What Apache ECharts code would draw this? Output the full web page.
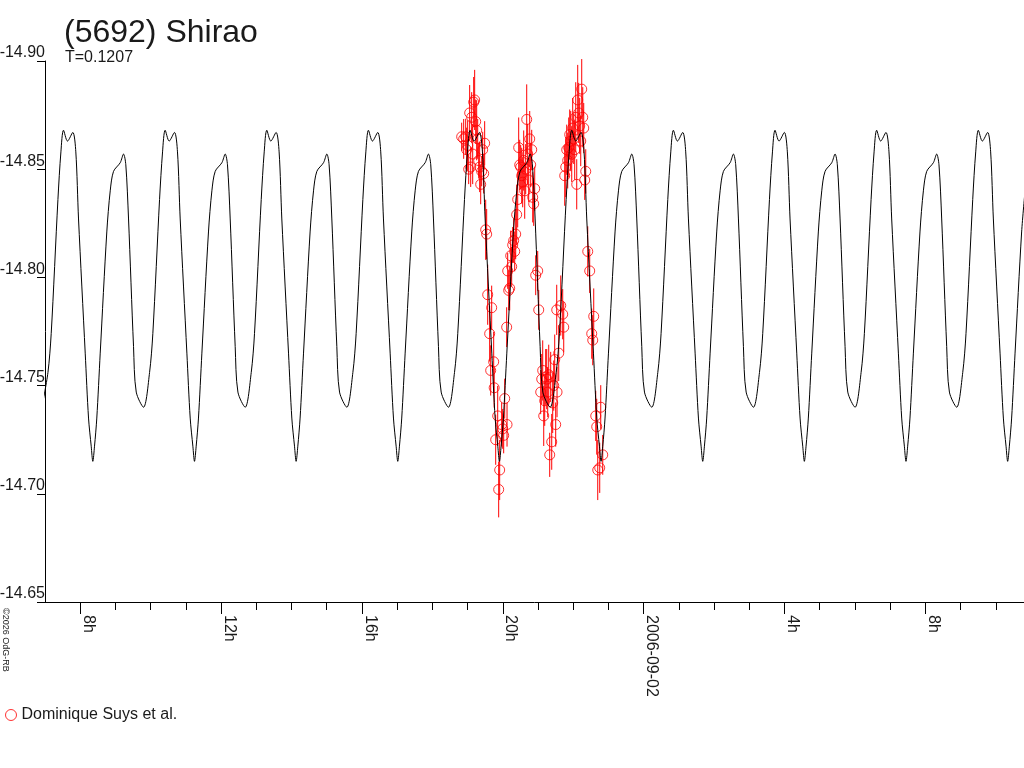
<!DOCTYPE html>
<html>
<head>
<meta charset="utf-8">
<title>(5692) Shirao</title>
<script src="https://cdn.jsdelivr.net/npm/echarts@6/dist/echarts.min.js"></script>
<style>
html, body { margin: 0; padding: 0; background: #fff; }
#chart { width: 1024px; height: 768px; }
</style>
</head>
<body>
<div id="chart"></div>
<script>
// model lightcurve, hours counted from 2006-09-01 0h
const curveHours = [
  6.912, 7.083, 7.176, 7.367, 7.452,
  7.525, 7.639, 7.790, 7.875, 7.952, 8.142, 8.236, 8.312, 8.358, 8.406, 8.471, 8.568, 8.755, 8.852, 8.946, 9.136, 9.230, 9.295, 9.372, 9.514, 9.591, 9.798, 9.969, 10.062, 10.253, 10.338,
  10.412, 10.526, 10.677, 10.762, 10.839, 11.029, 11.123, 11.199, 11.245, 11.293, 11.358, 11.455, 11.642, 11.739, 11.833, 12.023, 12.117, 12.182, 12.259, 12.401, 12.478, 12.685, 12.856, 12.949, 13.140, 13.225,
  13.298, 13.412, 13.563, 13.648, 13.725, 13.915, 14.009, 14.085, 14.131, 14.179, 14.244, 14.341, 14.528, 14.625, 14.719, 14.909, 15.003, 15.068, 15.145, 15.287, 15.364, 15.571, 15.742, 15.835, 16.026, 16.111,
  16.184, 16.298, 16.449, 16.534, 16.611, 16.801, 16.895, 16.971, 17.017, 17.065, 17.130, 17.227, 17.414, 17.511, 17.605, 17.795, 17.889, 17.954, 18.031, 18.173, 18.250, 18.457, 18.628, 18.721, 18.912, 18.997,
  19.071, 19.185, 19.336, 19.421, 19.498, 19.688, 19.782, 19.858, 19.904, 19.952, 20.017, 20.114, 20.301, 20.398, 20.492, 20.682, 20.776, 20.841, 20.918, 21.060, 21.137, 21.344, 21.515, 21.608, 21.799, 21.884,
  21.957, 22.071, 22.222, 22.307, 22.384, 22.574, 22.668, 22.744, 22.790, 22.838, 22.903, 23.000, 23.187, 23.284, 23.378, 23.568, 23.662, 23.727, 23.804, 23.946, 24.023, 24.230, 24.401, 24.494, 24.685, 24.770,
  24.844, 24.958, 25.109, 25.194, 25.271, 25.461, 25.555, 25.631, 25.677, 25.725, 25.790, 25.887, 26.074, 26.171, 26.265, 26.455, 26.549, 26.614, 26.691, 26.833, 26.910, 27.117, 27.288, 27.381, 27.572, 27.657,
  27.730, 27.844, 27.995, 28.080, 28.157, 28.347, 28.441, 28.517, 28.563, 28.611, 28.676, 28.773, 28.960, 29.057, 29.151, 29.341, 29.435, 29.500, 29.577, 29.719, 29.796, 30.003, 30.174, 30.267, 30.458, 30.543,
  30.616, 30.730, 30.881, 30.966, 31.043, 31.233, 31.327, 31.403, 31.449, 31.497, 31.562, 31.659, 31.846, 31.943, 32.037, 32.227, 32.321, 32.386, 32.463, 32.605, 32.682, 32.889, 33.060, 33.153, 33.344, 33.429,
  33.503, 33.617, 33.768, 33.853, 33.930, 34.120, 34.214, 34.290, 34.336, 34.384, 34.449, 34.546, 34.733, 34.830
]
const curveMags = [
  -14.740, -14.756, -14.774, -14.836, -14.858,
  -14.868, -14.863, -14.867, -14.858, -14.827, -14.765, -14.735, -14.722, -14.715, -14.722, -14.735, -14.765, -14.821, -14.840, -14.849, -14.853, -14.857, -14.852, -14.827, -14.768, -14.747, -14.740, -14.756, -14.774, -14.836, -14.858,
  -14.868, -14.863, -14.867, -14.858, -14.827, -14.765, -14.735, -14.722, -14.715, -14.722, -14.735, -14.765, -14.821, -14.840, -14.849, -14.853, -14.857, -14.852, -14.827, -14.768, -14.747, -14.740, -14.756, -14.774, -14.836, -14.858,
  -14.868, -14.863, -14.867, -14.858, -14.827, -14.765, -14.735, -14.722, -14.715, -14.722, -14.735, -14.765, -14.821, -14.840, -14.849, -14.853, -14.857, -14.852, -14.827, -14.768, -14.747, -14.740, -14.756, -14.774, -14.836, -14.858,
  -14.868, -14.863, -14.867, -14.858, -14.827, -14.765, -14.735, -14.722, -14.715, -14.722, -14.735, -14.765, -14.821, -14.840, -14.849, -14.853, -14.857, -14.852, -14.827, -14.768, -14.747, -14.740, -14.756, -14.774, -14.836, -14.858,
  -14.868, -14.863, -14.867, -14.858, -14.827, -14.765, -14.735, -14.722, -14.715, -14.722, -14.735, -14.765, -14.821, -14.840, -14.849, -14.853, -14.857, -14.852, -14.827, -14.768, -14.747, -14.740, -14.756, -14.774, -14.836, -14.858,
  -14.868, -14.863, -14.867, -14.858, -14.827, -14.765, -14.735, -14.722, -14.715, -14.722, -14.735, -14.765, -14.821, -14.840, -14.849, -14.853, -14.857, -14.852, -14.827, -14.768, -14.747, -14.740, -14.756, -14.774, -14.836, -14.858,
  -14.868, -14.863, -14.867, -14.858, -14.827, -14.765, -14.735, -14.722, -14.715, -14.722, -14.735, -14.765, -14.821, -14.840, -14.849, -14.853, -14.857, -14.852, -14.827, -14.768, -14.747, -14.740, -14.756, -14.774, -14.836, -14.858,
  -14.868, -14.863, -14.867, -14.858, -14.827, -14.765, -14.735, -14.722, -14.715, -14.722, -14.735, -14.765, -14.821, -14.840, -14.849, -14.853, -14.857, -14.852, -14.827, -14.768, -14.747, -14.740, -14.756, -14.774, -14.836, -14.858,
  -14.868, -14.863, -14.867, -14.858, -14.827, -14.765, -14.735, -14.722, -14.715, -14.722, -14.735, -14.765, -14.821, -14.840, -14.849, -14.853, -14.857, -14.852, -14.827, -14.768, -14.747, -14.740, -14.756, -14.774, -14.836, -14.858,
  -14.868, -14.863, -14.867, -14.858, -14.827, -14.765, -14.735, -14.722, -14.715, -14.722, -14.735, -14.765, -14.821, -14.840
]

// observations (Dominique Suys et al.)
const obsHours = [
  18.832, 18.889, 18.946, 18.974, 19.002, 19.031, 19.059, 19.088, 19.116, 19.145,
  19.173, 19.201, 19.230, 19.258, 19.287, 19.315, 19.343, 19.372, 19.400, 19.429,
  19.457, 19.485, 19.514, 19.542, 19.571, 19.627, 19.656, 19.684, 19.741, 19.755,
  19.798, 19.855, 19.883, 19.911, 19.968, 19.997, 20.025, 20.054, 20.110, 20.120,
  20.139, 20.167, 20.196, 20.224, 20.252, 20.281, 20.309, 20.338, 20.366, 20.394,
  20.423, 20.451, 20.480, 20.508, 20.537, 20.565, 20.593, 20.622, 20.650, 20.679,
  20.707, 20.735, 20.764, 20.792, 20.821, 20.849, 20.877, 20.906, 20.934, 20.991,
  21.020, 21.076, 21.105, 21.133, 21.162, 21.190, 21.218, 21.247, 21.275, 21.304,
  21.332, 21.360, 21.389, 21.417, 21.446, 21.474, 21.502, 21.531, 21.540, 21.588,
  21.645, 21.701, 21.730, 21.758, 21.787, 21.815, 21.843, 21.872, 21.900, 21.929,
  21.957, 21.985, 22.014, 22.042, 22.071, 22.099, 22.127, 22.156, 22.184, 22.213,
  22.241, 22.270, 22.298, 22.326, 22.355, 22.412, 22.468, 22.525, 22.554, 22.582,
  22.639, 22.667, 22.696, 22.752, 22.781, 22.838
]
const obsMags = [
  -14.865, -14.864, -14.865, -14.859, -14.861, -14.850, -14.876, -14.851, -14.874, -14.857,
  -14.881, -14.882, -14.872, -14.868, -14.864, -14.854, -14.851, -14.843, -14.849, -14.859,
  -14.848, -14.862, -14.822, -14.820, -14.792, -14.774, -14.757, -14.786, -14.761, -14.749,
  -14.725, -14.736, -14.702, -14.711, -14.732, -14.730, -14.727, -14.744, -14.777, -14.732,
  -14.803, -14.794, -14.795, -14.810, -14.805, -14.815, -14.817, -14.812, -14.820, -14.829,
  -14.836, -14.860, -14.852, -14.851, -14.847, -14.844, -14.854, -14.840, -14.850, -14.873,
  -14.857, -14.845, -14.864, -14.852, -14.859, -14.837, -14.834, -14.841, -14.801, -14.803,
  -14.785, -14.747, -14.753, -14.757, -14.736, -14.743, -14.754, -14.753, -14.747, -14.755,
  -14.718, -14.754, -14.724, -14.742, -14.750, -14.762, -14.732, -14.785, -14.747, -14.765,
  -14.787, -14.783, -14.777, -14.847, -14.851, -14.859, -14.854, -14.860, -14.866, -14.863,
  -14.857, -14.869, -14.864, -14.859, -14.874, -14.843, -14.882, -14.876, -14.870, -14.863,
  -14.887, -14.874, -14.869, -14.845, -14.849, -14.812, -14.803, -14.774, -14.771, -14.782,
  -14.736, -14.731, -14.711, -14.712, -14.740, -14.718
]
const obsErrs = [
  0.0065, 0.0092, 0.0083, 0.0102, 0.0116, 0.0069, 0.0129, 0.0092, 0.0116, 0.0139,
  0.0116, 0.0139, 0.0102, 0.0139, 0.0092, 0.0083, 0.0116, 0.0092, 0.0069, 0.0083,
  0.0092, 0.0102, 0.0139, 0.0116, 0.0139, 0.0129, 0.0116, 0.0102, 0.0139, 0.0092,
  0.0116, 0.0139, 0.0129, 0.0139, 0.0102, 0.0092, 0.0083, 0.0092, 0.0092, 0.0102,
  0.0083, 0.0092, 0.0102, 0.0116, 0.0092, 0.0083, 0.0102, 0.0092, 0.0116, 0.0139,
  0.0129, 0.0139, 0.0116, 0.0102, 0.0129, 0.0116, 0.0139, 0.0129, 0.0116, 0.0162,
  0.0139, 0.0102, 0.0129, 0.0102, 0.0092, 0.0116, 0.0102, 0.0102, 0.0092, 0.0092,
  0.0092, 0.0102, 0.0116, 0.0139, 0.0139, 0.0116, 0.0129, 0.0139, 0.0116, 0.0139,
  0.0102, 0.0116, 0.0129, 0.0139, 0.0116, 0.0116, 0.0102, 0.0116, 0.0116, 0.0129,
  0.0139, 0.0116, 0.0116, 0.0139, 0.0139, 0.0116, 0.0129, 0.0139, 0.0116, 0.0139,
  0.0129, 0.0139, 0.0116, 0.0139, 0.0162, 0.0116, 0.0162, 0.0139, 0.0129, 0.0116,
  0.0139, 0.0139, 0.0116, 0.0092, 0.0102, 0.0116, 0.0102, 0.0116, 0.0116, 0.0129,
  0.0116, 0.0129, 0.0139, 0.0116, 0.0102, 0.0092
]

// axis ticks
const majorHours = [8, 12, 16, 20, 24, 28, 32]
const hourLabels = ['8h', '12h', '16h', '20h', '2006-09-02', '4h', '8h']
const minorHours = [8, 9, 10, 11, 12, 13, 14, 15, 16, 17, 18, 19, 20, 21, 22, 23, 24, 25, 26, 27, 28, 29, 30, 31, 32, 33, 34]

const FONT = "'Liberation Sans', Arial, sans-serif"
const RED = '#ff0000'
const TEXT = '#1a1a1a'

let curveData = new Array
for (let i = 0; i < curveHours.length; i++) {
    curveData.push([curveHours[i], curveMags[i]])
}
let obsData = new Array
for (let i = 0; i < obsHours.length; i++) {
    obsData.push([obsHours[i], obsMags[i], obsErrs[i]])
}

const xMin = 7
const xMax = 34.8

let option = {
    backgroundColor: '#fff',
    animation: false,
    textStyle: { fontFamily: FONT },
    grid: { left: 45, top: 61, width: 979, height: 541, containLabel: false, outerBoundsMode: 'none' },
    graphic: [
        { type: 'text', x: 64, y: 33, style: { text: '(5692) Shirao', font: '32px ' + FONT, fill: TEXT, verticalAlign: 'middle' } },
        { type: 'text', x: 65, y: 58, style: { text: 'T=0.1207', font: '16px ' + FONT, fill: TEXT, verticalAlign: 'middle' } },
        { type: 'text', x: 5, y: 608, rotation: -Math.PI / 2, style: { text: '©2026 OdG-RB', font: '9px ' + FONT, fill: TEXT, align: 'left', verticalAlign: 'middle' } }
    ],
    legend: {
        left: 0,
        top: 702,
        itemWidth: 11,
        itemHeight: 11,
        itemGap: 10,
        textStyle: { fontSize: 16, color: TEXT, fontFamily: FONT },
        data: [{
            name: 'Dominique Suys et al.',
            icon: 'circle',
            itemStyle: { color: 'transparent', borderColor: RED, borderWidth: 1 }
        }]
    },
    xAxis: [
        {
            type: 'value',
            min: xMin,
            max: xMax,
            position: 'bottom',
            axisLine: { show: true, lineStyle: { color: '#000', width: 1 } },
            axisTick: { show: true, length: 12, customValues: majorHours, lineStyle: { color: '#000' } },
            axisLabel: {
                show: true,
                customValues: majorHours,
                rotate: -90,
                margin: 13,
                verticalAlign: 'bottom',
                fontSize: 16,
                color: TEXT,
                fontFamily: FONT,
                formatter: function (v) {
                    const idx = majorHours.indexOf(Math.round(v))
                    return idx >= 0 ? hourLabels[idx] : ''
                }
            },
            splitLine: { show: false }
        },
        {
            type: 'value',
            min: xMin,
            max: xMax,
            position: 'bottom',
            axisLine: { show: false },
            axisTick: { show: true, length: 8, customValues: minorHours, lineStyle: { color: '#000' } },
            axisLabel: { show: false },
            splitLine: { show: false }
        }
    ],
    yAxis: {
        type: 'value',
        inverse: true,
        min: -14.90,
        max: -14.65,
        interval: 0.05,
        axisLine: { show: true, lineStyle: { color: '#000', width: 1 } },
        axisTick: { show: true, length: 8, lineStyle: { color: '#000' } },
        axisLabel: {
            margin: 0,
            verticalAlign: 'bottom',
            fontSize: 16,
            color: TEXT,
            fontFamily: FONT,
            formatter: function (v) { return v.toFixed(2) }
        },
        splitLine: { show: false }
    },
    series: [
        {
            name: 'errors',
            type: 'custom',
            xAxisIndex: 0,
            yAxisIndex: 0,
            z: 1,
            encode: { x: 0, y: 1 },
            renderItem: function (params, api) {
                const h = api.value(0)
                const m = api.value(1)
                const e = api.value(2)
                const p1 = api.coord([h, m - e])
                const p2 = api.coord([h, m + e])
                return {
                    type: 'line',
                    shape: { x1: p1[0], y1: p1[1], x2: p2[0], y2: p2[1] },
                    style: { stroke: RED, lineWidth: 1 }
                }
            },
            data: obsData
        },
        {
            name: 'Dominique Suys et al.',
            type: 'scatter',
            xAxisIndex: 0,
            yAxisIndex: 0,
            z: 2,
            symbol: 'circle',
            symbolSize: 10,
            itemStyle: { color: 'transparent', borderColor: RED, borderWidth: 1 },
            data: obsData.map(d => [d[0], d[1]])
        },
        {
            name: 'model',
            type: 'line',
            xAxisIndex: 0,
            yAxisIndex: 0,
            z: 3,
            showSymbol: false,
            smooth: 0.3,
            lineStyle: { color: '#000', width: 1 },
            data: curveData
        }
    ]
}

let chart = echarts.init(document.getElementById('chart'))
chart.setOption(option)
</script>
</body>
</html>
